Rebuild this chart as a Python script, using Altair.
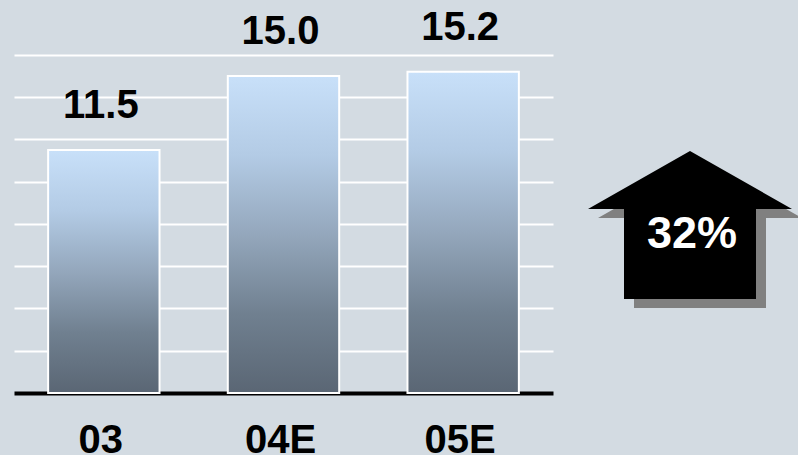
import altair as alt
import pandas as pd

years = ["03", "04E", "05E"]
values = [11.5, 15.0, 15.2]
value_labels = ["11.5", "15.0", "15.2"]
growth_label = ["32%"]
grid_values = [2, 4, 6, 8, 10, 12, 14, 16]

df = pd.DataFrame({"year": years, "value": values, "label": value_labels})
arrow_df = pd.DataFrame({"label": growth_label})

FONT = "Liberation Sans"

x = alt.X(
    "year:N",
    sort=years,
    scale=alt.Scale(paddingInner=0.38, paddingOuter=0.19),
    axis=alt.Axis(
        title=None,
        labelAngle=0,
        ticks=False,
        tickSize=0,
        labelFont=FONT,
        labelFontSize=40,
        labelFontWeight="bold",
        labelColor="black",
        labelBaseline="alphabetic",
        labelPadding=59,
        labelOffset=-3,
        domainColor="black",
        domainWidth=4,
        grid=False,
    ),
)
y = alt.Y(
    "value:Q",
    scale=alt.Scale(domain=[0, 18.6], nice=False, zero=True),
    axis=alt.Axis(
        title=None,
        labels=False,
        ticks=False,
        domain=False,
        values=grid_values,
        grid=True,
        gridColor="white",
        gridWidth=2,
        gridOpacity=1,
    ),
)

gradient = alt.Gradient(
    gradient="linear",
    x1=0, x2=0, y1=0, y2=1,
    stops=[
        alt.GradientStop(color="#c8e0f9", offset=0),
        alt.GradientStop(color="#b3cbe5", offset=0.25),
        alt.GradientStop(color="#94a7bc", offset=0.5),
        alt.GradientStop(color="#708090", offset=0.75),
        alt.GradientStop(color="#5a6674", offset=1),
    ],
)

bars = alt.Chart(df).mark_bar(color=gradient, stroke="white", strokeWidth=2).encode(x=x, y=y)

texts = alt.Chart(df).mark_text(
    font=FONT, fontSize=40, fontWeight="bold", color="black",
    baseline="alphabetic", align="center", dy=-32, dx=-3,
).encode(x=alt.X("year:N", sort=years), y=alt.Y("value:Q"), text="label:N")

ARROW = "M0,-0.725 L1,-0.157 L0.647,-0.157 L0.647,0.725 L-0.647,0.725 L-0.647,-0.157 L-1,-0.157 Z"

shadow = alt.Chart(arrow_df).mark_point(
    shape=ARROW, filled=True, size=41616, color="#808080", opacity=1, strokeWidth=0
).encode(x=alt.value(700 - 14), y=alt.value(234))

arrow = alt.Chart(arrow_df).mark_point(
    shape=ARROW, filled=True, size=41616, color="black", opacity=1, strokeWidth=0
).encode(x=alt.value(690 - 14), y=alt.value(225))

arrow_text = alt.Chart(arrow_df).mark_text(
    font=FONT, fontSize=45, fontWeight="bold", color="white",
    baseline="alphabetic", align="center",
).encode(x=alt.value(692 - 14), y=alt.value(248), text="label:N")

chart = alt.layer(bars, texts, shadow, arrow, arrow_text).properties(
    width=539,
    height=393,
    padding={"left": 14, "top": 0, "right": 245, "bottom": 62},
    autosize=alt.AutoSizeParams(type="none"),
    background="#d3dbe2",
).configure_view(stroke=None)

chart.save("out.html", embed_options={"renderer": "svg", "actions": False})
